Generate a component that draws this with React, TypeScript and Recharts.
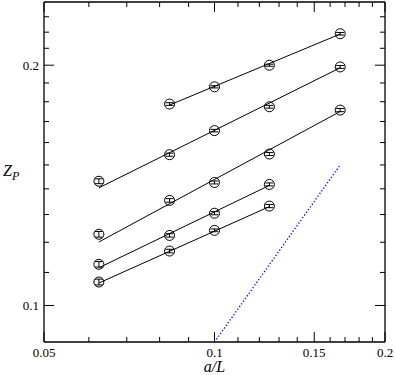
import React from 'react';
import { ComposedChart, Line, XAxis, YAxis, ErrorBar, Label } from 'recharts';

// a/L values of the lattices (1/16, 1/12, 1/10, 1/8, 1/6)
const aL = [0.0625, 0.0833, 0.1, 0.125, 0.1667];

// measured Z_P, from the top series down
const zA = [0.1788, 0.1879, 0.2, 0.219]; // starts at 1/12
const zB = [0.1431, 0.1545, 0.1656, 0.1774, 0.199];
const zC = [0.1228, 0.1354, 0.1426, 0.1548, 0.1757];
const zD = [0.1126, 0.1224, 0.1305, 0.1418]; // up to 1/8
const zE = [0.107, 0.117, 0.1242, 0.1332];

const errA = [0.0007, 0.0006, 0.0006, 0.0008];
const errB = [0.001, 0.0007, 0.0006, 0.0007, 0.0008];
const errC = [0.001, 0.0007, 0.0006, 0.0007, 0.0008];
const errD = [0.0009, 0.0006, 0.0006, 0.0006];
const errE = [0.0009, 0.0006, 0.0005, 0.0006];

// fit lines: value at first and last a/L
const fitA = [0.1783, 0.2188];
const fitB = [0.1404, 0.1985];
const fitC = [0.1201, 0.175];
const fitD = [0.1115, 0.1414];
const fitE = [0.1067, 0.133];

// blue dotted reference line
const refX = [0.1, 0.1667];
const refZ = [0.09, 0.15];

const xTicks = [0.05, 0.06, 0.07, 0.08, 0.09, 0.1, 0.11, 0.12, 0.13, 0.14, 0.15, 0.16, 0.17, 0.18, 0.19, 0.2];
const xMajor = [0.05, 0.1, 0.15, 0.2];
const yTicks = [0.1, 0.11, 0.12, 0.13, 0.14, 0.15, 0.16, 0.17, 0.18, 0.19, 0.2, 0.21, 0.22, 0.23];
const yMajor = [0.1, 0.2];

const FONT = "'Liberation Serif', 'DejaVu Serif', serif";
const labelStyle = { fontFamily: FONT, fontSize: 13 };
const titleStyle = { fontFamily: FONT, fontSize: 16, fontStyle: 'italic' as const };

const pts = (xs: number[], zs: number[], errs?: number[]) =>
  zs.map((z, i) => ({ x: xs[i], z, err: errs ? errs[i] : 0 }));

const dataA = pts(aL.slice(1), zA, errA);
const dataB = pts(aL, zB, errB);
const dataC = pts(aL, zC, errC);
const dataD = pts(aL.slice(0, 4), zD, errD);
const dataE = pts(aL.slice(0, 4), zE, errE);

const lineA = pts([aL[1], aL[4]], fitA);
const lineB = pts([aL[0], aL[4]], fitB);
const lineC = pts([aL[0], aL[4]], fitC);
const lineD = pts([aL[0], aL[3]], fitD);
const lineE = pts([aL[0], aL[3]], fitE);
const refLine = pts(refX, refZ);

const Circle = (props: any) => {
  const { cx, cy, index } = props;
  if (cx == null || cy == null) return <g key={index} />;
  return <circle key={index} cx={cx} cy={cy} r={5} fill="none" stroke="#000" strokeWidth={1} />;
};

const BottomTick = ({ x, y, payload }: any) => {
  const major = xMajor.includes(payload.value);
  return (
    <g>
      <line x1={x} x2={x} y1={y} y2={y - (major ? 10 : 5)} stroke="#000" strokeWidth={1} />
      {major && (
        <text x={x} y={y + 14.5} textAnchor="middle" style={labelStyle} fill="#000">
          {payload.value}
        </text>
      )}
    </g>
  );
};

const TopTick = ({ x, y, payload }: any) => {
  const major = xMajor.includes(payload.value);
  return <line x1={x} x2={x} y1={y} y2={y + (major ? 10 : 5)} stroke="#000" strokeWidth={1} />;
};

const LeftTick = ({ x, y, payload }: any) => {
  const major = yMajor.includes(payload.value);
  return (
    <g>
      <line x1={x} x2={x + (major ? 10 : 5)} y1={y} y2={y} stroke="#000" strokeWidth={1} />
      {major && (
        <text x={x - 5} y={y + 4.5} textAnchor="end" style={labelStyle} fill="#000">
          {payload.value}
        </text>
      )}
    </g>
  );
};

const RightTick = ({ x, y, payload }: any) => {
  const major = yMajor.includes(payload.value);
  return <line x1={x} x2={x - (major ? 10 : 5)} y1={y} y2={y} stroke="#000" strokeWidth={1} />;
};

const XTitle = ({ viewBox }: any) => (
  <text x={viewBox.x + viewBox.width / 2} y={372} textAnchor="middle" style={titleStyle} fill="#000">
    a/L
  </text>
);

const YTitle = ({ viewBox }: any) => (
  <text x={3} y={viewBox.y + viewBox.height / 2 + 4} style={titleStyle} fill="#000">
    Z
    <tspan fontSize={12} dy={4}>P</tspan>
  </text>
);

const axisStroke = { stroke: '#000', strokeWidth: 1.3 };

const markerSeries = [dataA, dataB, dataC, dataD, dataE];
const fitSeries = [lineA, lineB, lineC, lineD, lineE];

export default function App() {
  return (
    <div style={{ position: 'absolute', left: 0, top: 0, background: '#fff' }}>
      <ComposedChart width={395} height={375} margin={{ top: 0, right: 0, bottom: 0, left: 0 }}>
        <XAxis
          dataKey="x"
          type="number"
          scale="log"
          domain={[0.05, 0.2]}
          allowDataOverflow
          ticks={xTicks}
          interval={0}
          tickSize={0}
          tickMargin={0}
          tickLine={false}
          tick={<BottomTick />}
          axisLine={axisStroke}
          height={33}
        >
          <Label content={<XTitle />} />
        </XAxis>
        <XAxis
          xAxisId="top"
          orientation="top"
          dataKey="x"
          type="number"
          scale="log"
          domain={[0.05, 0.2]}
          allowDataOverflow
          ticks={xTicks}
          interval={0}
          tickSize={0}
          tickMargin={0}
          tickLine={false}
          tick={<TopTick />}
          axisLine={axisStroke}
          height={2}
        />
        <YAxis
          type="number"
          scale="log"
          domain={[0.09, 0.24]}
          allowDataOverflow
          ticks={yTicks}
          interval={0}
          tickSize={0}
          tickMargin={0}
          tickLine={false}
          tick={<LeftTick />}
          axisLine={axisStroke}
          width={44}
        >
          <Label content={<YTitle />} />
        </YAxis>
        <YAxis
          yAxisId="right"
          orientation="right"
          type="number"
          scale="log"
          domain={[0.09, 0.24]}
          allowDataOverflow
          ticks={yTicks}
          interval={0}
          tickSize={0}
          tickMargin={0}
          tickLine={false}
          tick={<RightTick />}
          axisLine={axisStroke}
          width={10}
        />
        <Line
          data={refLine}
          dataKey="z"
          stroke="#0000ff"
          strokeWidth={1.3}
          strokeDasharray="1.3 2"
          dot={false}
          isAnimationActive={false}
        />
        {fitSeries.map((d, i) => (
          <Line
            key={`fit${i}`}
            data={d}
            dataKey="z"
            stroke="#000"
            strokeWidth={1}
            dot={false}
            isAnimationActive={false}
          />
        ))}
        {markerSeries.map((d, i) => (
          <Line
            key={`pts${i}`}
            data={d}
            dataKey="z"
            stroke="none"
            dot={Circle}
            activeDot={false}
            isAnimationActive={false}
          >
            <ErrorBar dataKey="err" width={4} stroke="#000" strokeWidth={1} direction="y" />
          </Line>
        ))}
      </ComposedChart>
    </div>
  );
}
